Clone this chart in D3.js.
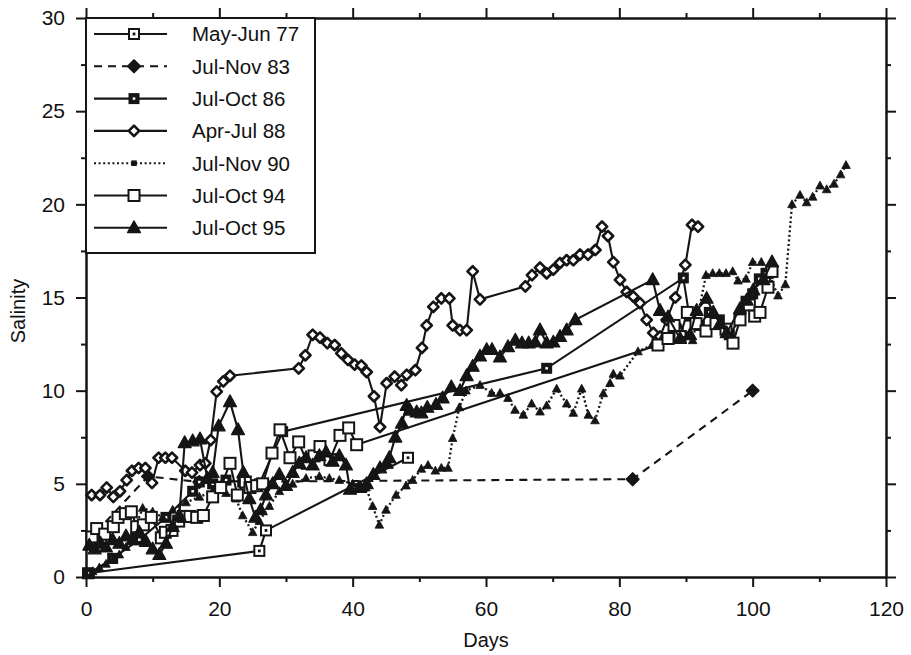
<!DOCTYPE html>
<html><head><meta charset="utf-8">
<script src="https://cdn.jsdelivr.net/npm/d3@7"></script>
<style>body{margin:0;background:#fff} text{font-family:"Liberation Sans",Arial,Helvetica,sans-serif;fill:#111}</style>
</head><body><svg id="c" width="911" height="655"></svg>
<script>
// ---------------- data ----------------
const seriesNames = ["May-Jun 77","Jul-Nov 83","Jul-Oct 86","Apr-Jul 88","Jul-Nov 90","Jul-Oct 94","Jul-Oct 95"];
const xTickValues = [0,20,40,60,80,100,120];
const xMinorTicks = [10,30,50,70,90,110];
const yTickValues = [0,5,10,15,20,25,30];
const yMinorTicks = [2.5,7.5,12.5,17.5,22.5,27.5];

const mayJun77 = [[0.3,0.2],[26,1.4],[27,2.5],[48.3,6.4]];
const julNov83 = [[1.5,2.4],[9.3,5.4],[17,5.1],[82,5.25],[100,10]];
const julOct86 = [[0.5,0.2],[4,1.0],[8,2.0],[12,3.2],[16,4.6],[17,5.1],[19,5.0],[21,5.2],[23.5,5.1],[26,5.0],[29.5,7.8],[69.1,11.2],[89.6,16.05],[90.5,14.0],[92,13.5],[93.5,14.2],[95,13.8],[96.5,13.0],[98,13.8],[99,14.8],[100,15.2],[101,16.0],[102,16.3]];
const aprJul88 = [[0.85,4.4],[2.1,4.4],[3.1,4.8],[4.1,4.3],[5.1,4.6],[6.1,5.2],[6.9,5.7],[7.9,5.85],[8.9,5.85],[9.9,5.05],[10.9,6.4],[11.9,6.4],[12.9,6.4],[14.9,5.7],[15.9,5.6],[17.1,6.0],[17.9,6.1],[18.7,7.35],[19.6,9.95],[20.6,10.5],[21.6,10.8],[31.9,11.2],[32.9,11.9],[34.0,13.0],[35.1,12.85],[36.2,12.55],[37.3,12.45],[38.3,12.0],[39.3,11.65],[40.3,11.4],[41.3,11.35],[42.1,11.0],[43.2,9.7],[44.1,8.05],[45.1,10.4],[46.3,10.75],[47.3,10.3],[48.1,10.85],[49.4,11.1],[50.4,12.3],[51.1,13.5],[52.1,14.5],[53.3,14.95],[54.5,14.95],[55.0,13.5],[56.1,13.25],[57.1,13.25],[58.0,16.4],[59.1,14.9],[65.9,15.6],[66.9,16.2],[68.1,16.6],[69.1,16.3],[70.1,16.5],[71.1,16.85],[72.1,17.0],[73.1,17.0],[74.1,17.3],[75.3,17.3],[76.4,17.55],[77.4,18.8],[78.3,18.3],[79.1,16.9],[80.1,15.95],[81.1,15.3],[82.1,15.05],[83.1,14.7],[84.1,13.8],[85.1,13.1],[86.1,12.9],[87.1,13.8],[88.4,15.0],[89.9,16.75],[90.9,18.9],[91.8,18.8]];
const julNov90 = [[1,0.3],[2,0.5],[3,0.7],[4,0.9],[5,1.2],[6,1.6],[7,2.3],[8.5,3.7],[10,3.5],[11.5,3.2],[13,3.6],[15,4.0],[17,4.3],[19,4.6],[21,4.5],[22.5,4.2],[23.5,3.3],[25,2.4],[26,3.0],[27.5,3.8],[29,4.6],[31,5.0],[33,5.3],[35,5.4],[36.5,5.3],[38,5.2],[40,5.0],[42,4.8],[43,3.8],[44,2.8],[45,3.6],[46.5,4.4],[48,4.9],[49,5.2],[50.3,5.8],[51.3,6.0],[52.4,5.7],[53.3,5.85],[54.3,5.85],[55,7.45],[56,9.1],[57,10.0],[59.1,10.3],[60.85,9.87],[62.1,9.87],[63.3,9.6],[64.35,8.96],[65.6,8.7],[66.85,9.3],[68.1,8.87],[69.1,9.2],[70.6,10.1],[72.1,9.3],[73.1,8.8],[74.35,10.1],[75.35,8.7],[76.35,8.4],[77.6,9.85],[78.6,10.4],[79.1,10.9],[80.1,10.8],[82.8,12.1],[84.9,12.45],[86.5,12.9],[88,13.2],[89,13.5],[90,13.0],[91,12.7],[93,16.2],[94,16.3],[95,16.3],[96,16.3],[97,16.4],[97.8,15.9],[99,16.0],[100,16.9],[101.3,16.9],[102.5,16.2],[103.8,15.1],[104.9,15.7],[105.9,20.0],[107.1,20.5],[108.1,20.1],[109,20.4],[110.1,21.0],[111.1,20.8],[112.2,21.1],[113.2,21.6],[114,22.1]];
const julOct94 = [[0.9,2.15],[1.6,2.6],[2.8,2.3],[4.1,2.7],[4.8,3.2],[5.9,3.4],[6.8,3.5],[7.6,2.7],[8.6,2.8],[9.8,3.2],[11.3,2.1],[11.9,2.4],[12.9,2.5],[13.9,3.0],[14.6,3.25],[15.6,3.25],[16.6,3.2],[17.6,3.3],[19.0,4.3],[20.2,4.8],[21.6,6.1],[22.7,4.4],[23.9,5.1],[24.6,4.8],[25.6,4.9],[26.5,5.0],[27.9,6.65],[29.1,7.9],[30.6,6.4],[31.9,7.25],[33.2,6.1],[34.2,6.5],[35.1,7.0],[36.6,6.3],[38.1,7.6],[39.4,8.0],[40.6,7.1],[85.8,12.45],[87.3,12.8],[88.2,13.5],[89.1,12.9],[90.2,14.2],[91.5,13.6],[93.0,13.2],[94.5,13.6],[96.0,13.3],[97.05,12.55],[98.1,13.8],[99.5,14.6],[100.3,14.0],[101.1,14.2],[102.3,15.55],[102.9,16.4]];
const julOct95 = [[0.5,1.7],[1.3,1.5],[2.2,1.8],[3.0,1.6],[4.0,2.0],[5.0,1.8],[6.0,2.2],[7.0,2.0],[8.0,2.4],[9.0,1.9],[10.0,1.5],[11.0,1.2],[12.0,1.8],[13.0,2.7],[14.0,3.3],[14.8,7.2],[16.0,7.3],[17.1,7.4],[18.2,5.3],[19.0,5.6],[19.9,8.1],[21.6,9.4],[22.8,7.9],[23.6,5.6],[24.5,4.2],[25.4,3.2],[26.2,3.6],[27.0,4.4],[28.0,5.0],[29.0,5.5],[30.0,4.9],[31.0,5.6],[32.0,6.1],[33.0,6.4],[34.0,6.0],[35.0,6.5],[36.0,6.7],[37.0,6.2],[38.0,6.5],[39.0,6.0],[39.6,4.7],[41.1,4.8],[42.1,5.0],[43.1,5.5],[44.1,5.85],[45.1,6.1],[45.5,6.4],[46.4,7.5],[47.4,8.25],[48.1,9.2],[48.6,8.95],[49.6,8.85],[50.3,8.8],[51.2,9.1],[52.5,9.25],[53.5,9.6],[54.8,10.2],[56.1,10.0],[57.1,10.8],[58.0,11.3],[59.1,11.85],[60.1,12.2],[60.9,12.2],[62.1,11.8],[63.3,12.35],[64.4,12.7],[65.4,12.55],[66.4,12.55],[67.4,12.6],[68.1,13.25],[69.1,12.55],[70.1,12.6],[71.1,12.9],[72.1,13.25],[73.4,13.8],[85.0,15.95],[86.1,14.3],[87.3,13.95],[89.1,12.8],[90.6,13.0],[91.6,14.3],[93.1,14.95],[94.1,14.2],[95.1,13.6],[96.1,13.1],[98.1,14.4],[99.1,14.85],[100.1,15.4],[101.6,15.95],[102.9,16.9]];

const seriesData = [mayJun77, julNov83, julOct86, aprJul88, julNov90, julOct94, julOct95];
const seriesDash = ["", "8,6", "", "", "2,2.6", "", ""];
const seriesMarker = ["sqDot","diamondFill","sqFillDot","diamondOpen","smallTri","sqOpen","triFill"];
const legendMarker = ["sqDot","diamondFill","sqFillDot","diamondOpen","smallSq","sqOpen","triFill"];

// ---------------- drawing ----------------
const ink = "#151515";
const svg = d3.select("#c");
svg.append("rect").attr("width",911).attr("height",655).attr("fill","#fff");
const x = d3.scaleLinear().domain([0,120]).range([86,886]);
const y = d3.scaleLinear().domain([0,30]).range([577,18]);

function styleAxis(g){
  g.selectAll("path.domain").attr("stroke",ink).attr("stroke-width",2);
  g.selectAll(".tick line").attr("stroke",ink).attr("stroke-width",2);
  g.selectAll("text").attr("font-size",21).attr("fill",ink).attr("font-family","Liberation Sans, Arial, sans-serif");
}
// bottom
svg.append("g").attr("transform","translate(0,577)")
  .call(d3.axisBottom(x).tickValues(xTickValues).tickSize(10).tickSizeOuter(0).tickPadding(14).tickFormat(d3.format("d")))
  .call(styleAxis);
svg.append("g").attr("transform","translate(0,577)")
  .call(d3.axisBottom(x).tickValues(xMinorTicks).tickSize(5).tickSizeOuter(0).tickFormat(""))
  .call(styleAxis);
// top
svg.append("g").attr("transform","translate(0,18)")
  .call(d3.axisTop(x).tickValues(xTickValues).tickSize(10).tickSizeOuter(0).tickFormat(""))
  .call(styleAxis);
svg.append("g").attr("transform","translate(0,18)")
  .call(d3.axisTop(x).tickValues(xMinorTicks).tickSize(5).tickSizeOuter(0).tickFormat(""))
  .call(styleAxis);
// left
svg.append("g").attr("transform","translate(86,0)")
  .call(d3.axisLeft(y).tickValues(yTickValues).tickSize(10).tickSizeOuter(0).tickPadding(11).tickFormat(d3.format("d")))
  .call(styleAxis);
svg.append("g").attr("transform","translate(86,0)")
  .call(d3.axisLeft(y).tickValues(yMinorTicks).tickSize(5).tickSizeOuter(0).tickFormat(""))
  .call(styleAxis);
// right
svg.append("g").attr("transform","translate(886,0)")
  .call(d3.axisRight(y).tickValues(yTickValues).tickSize(10).tickSizeOuter(0).tickFormat(""))
  .call(styleAxis);
svg.append("g").attr("transform","translate(886,0)")
  .call(d3.axisRight(y).tickValues(yMinorTicks).tickSize(5).tickSizeOuter(0).tickFormat(""))
  .call(styleAxis);

// axis titles
svg.append("text").attr("x",486).attr("y",647).attr("text-anchor","middle").attr("font-size",20).text("Days");
svg.append("text").attr("transform","translate(25,311) rotate(-90)").attr("text-anchor","middle").attr("font-size",20).text("Salinity");

function drawMarker(g, type, cx, cy){
  const s = g.append("g").attr("transform",`translate(${cx},${cy})`);
  if(type==="sqDot"){
    s.append("rect").attr("x",-5).attr("y",-5).attr("width",10).attr("height",10).attr("fill","#fff").attr("stroke",ink).attr("stroke-width",2);
    s.append("rect").attr("x",-1.4).attr("y",-1.4).attr("width",2.8).attr("height",2.8).attr("fill",ink);
  } else if(type==="diamondFill"){
    s.append("path").attr("d","M0,-6L6,0L0,6L-6,0Z").attr("fill",ink).attr("stroke",ink).attr("stroke-width",2).attr("stroke-linejoin","round");
  } else if(type==="sqFillDot"){
    s.append("rect").attr("x",-5.5).attr("y",-5.5).attr("width",11).attr("height",11).attr("fill",ink);
    s.append("rect").attr("x",-1.3).attr("y",-1.2).attr("width",2.6).attr("height",2.4).attr("fill","#fff");
  } else if(type==="diamondOpen"){
    s.append("path").attr("d","M0,-5.2L5.2,0L0,5.2L-5.2,0Z").attr("fill","#fff").attr("stroke",ink).attr("stroke-width",2.6).attr("stroke-linejoin","round");
  } else if(type==="smallTri"){
    s.append("path").attr("d","M0,-4.6L4.3,3.3L-4.3,3.3Z").attr("fill",ink).attr("stroke",ink).attr("stroke-width",0.8).attr("stroke-linejoin","round");
  } else if(type==="smallSq"){
    s.append("rect").attr("x",-2.8).attr("y",-2.8).attr("width",5.6).attr("height",5.6).attr("fill",ink);
  } else if(type==="sqOpen"){
    s.append("rect").attr("x",-5.5).attr("y",-5.5).attr("width",11).attr("height",11).attr("fill","#fff").attr("stroke",ink).attr("stroke-width",2);
  } else if(type==="triFill"){
    s.append("path").attr("d","M0,-7L6.5,4.8L-6.5,4.8Z").attr("fill",ink).attr("stroke",ink).attr("stroke-width",1.2).attr("stroke-linejoin","round");
  }
}

const line = d3.line().x(d=>x(d[0])).y(d=>y(d[1]));
const plot = svg.append("g");
seriesData.forEach((data,i)=>{
  const g = plot.append("g");
  g.append("path").datum(data).attr("d",line).attr("fill","none").attr("stroke",ink)
    .attr("stroke-width", seriesDash[i]==="2,2.6" ? 2.3 : 2.1)
    .attr("stroke-dasharray", seriesDash[i]||null);
  data.forEach(d=>drawMarker(g, seriesMarker[i], x(d[0]), y(d[1])));
});

// legend
const lg = svg.append("g");
lg.append("rect").attr("x",86).attr("y",18).attr("width",229).attr("height",235).attr("fill","#fff").attr("stroke",ink).attr("stroke-width",2);
seriesNames.forEach((name,i)=>{
  const ly = 34 + i*32.3;
  lg.append("line").attr("x1",94).attr("x2",167).attr("y1",ly).attr("y2",ly).attr("stroke",ink)
    .attr("stroke-width",2.1).attr("stroke-dasharray",seriesDash[i]||null);
  drawMarker(lg, legendMarker[i], 134, ly);
  lg.append("text").attr("x",192).attr("y",ly).attr("dy","0.36em").attr("font-size",20.5).text(name);
});
</script></body></html>
